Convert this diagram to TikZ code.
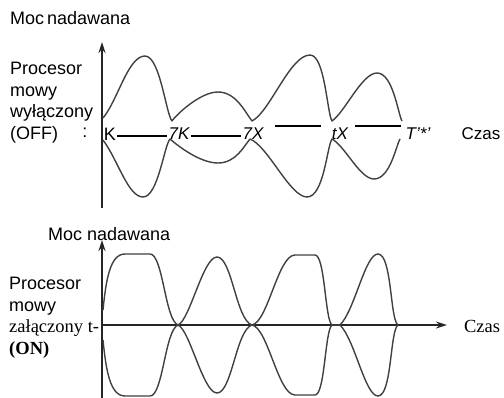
\documentclass[tikz,border=0pt]{standalone}
\usepackage{fontspec}
\setmainfont{Liberation Sans}
\newfontfamily\serifrm{Liberation Serif}
\usepackage{tikz}
\usetikzlibrary{arrows.meta, positioning}

\begin{document}
\begin{tikzpicture}[
    x=1pt, y=-1pt,
    lbl/.style={inner sep=1pt, font=\fontsize{18}{21.5}\selectfont},
    tlbl/.style={lbl, font=\fontsize{17}{21.5}\selectfont\itshape},
    serlbl/.style={inner sep=1pt, font=\fontsize{18.5}{21.5}\selectfont\serifrm},
    wave/.style={line width=1.4pt, black!75, line join=round},
    axis/.style={line width=1.6pt, black!85},
    axarr/.style={axis, -{Stealth[length=11pt, width=7pt]}},
    rule/.style={line width=1.3pt, black}
  ]
  \useasboundingbox (0,0) rectangle (504,398);

  \node[lbl, anchor=west] (titoff) at (9,18) {Moc\hspace{3pt}nadawana};
  \node[lbl, anchor=north west, align=left] (off) at (9,61)
    {Procesor\\mowy\\wyłączony\\(OFF)};
  \node[lbl] (colon) at (85,133) {:};
  \node[lbl] (k1) at (110,134) {K};
  \node[tlbl] (k2) at (179,134) {7K};
  \node[tlbl] (x1) at (253,134) {7X};
  \node[tlbl] (x2) at (340,134) {tX};
  \node[tlbl] (tt) at (418,134) {T'*'};
  \node[lbl, font=\fontsize{17}{21.5}\selectfont] (czas1) at (481,134) {Czas};
  \draw[rule] ([yshift=-2pt]k1.east) -- ([yshift=-2pt]k2.west);
  \draw[rule] ([yshift=-2pt]k2.east) -- ([yshift=-2pt]x1.west);
  \draw[rule, shorten <=10pt, shorten >=10pt] ([yshift=8pt]x1.east) -- ([yshift=8pt]x2.west);
  \draw[rule, shorten <=6pt, shorten >=4pt] ([yshift=8pt]x2.east) -- ([yshift=8pt]tt.west);

  \coordinate (o1) at (102,208);
  \coordinate (y1) at (102,42);
  \draw[axarr] (o1) -- (y1);

  \draw[wave] (103,118) .. controls (118,100) and (128,56) .. (145,56)
    .. controls (160,56) and (166,114) .. (172,121)
    .. controls (176,115) and (200,92) .. (218,92)
    .. controls (236,92) and (245,112) .. (252,121)
    .. controls (270,112) and (290,55) .. (310,55)
    .. controls (325,55) and (327,113) .. (332,121)
    .. controls (345,112) and (362,73) .. (377,73)
    .. controls (393,73) and (398,114) .. (402,121);
  \draw[wave] (103,140) .. controls (118,160) and (128,197) .. (143,197)
    .. controls (158,197) and (164,146) .. (170,139)
    .. controls (178,146) and (200,163) .. (218,163)
    .. controls (236,163) and (244,146) .. (250,139)
    .. controls (268,146) and (290,197) .. (307,197)
    .. controls (324,197) and (327,146) .. (332,139)
    .. controls (345,146) and (360,179) .. (374,179)
    .. controls (390,179) and (396,146) .. (400,139);

  \node[lbl, anchor=west] (titon) at (47,234) {Moc nadawana};
  \node[lbl, anchor=north west, align=left] (on) at (8,276)
    {Procesor\\mowy\\{\fontsize{18.5}{21.5}\selectfont\serifrm załączony t-}\\{\fontsize{18.5}{21.5}\selectfont\serifrm\bfseries (ON)}};
  \node[serlbl] (czas2) at (482,326) {Czas};

  \coordinate (o2) at (102,398);
  \coordinate (y2) at (102,240);
  \coordinate (b2) at (102,325);
  \coordinate (x2end) at (447,325);
  \draw[axarr] (o2) -- (y2);
  \draw[axarr] (b2) -- (x2end);

  \foreach \s in {1,-1}{
  \begin{scope}[shift={(0,325)}, yscale=\s]
    \draw[wave] (103,-15) .. controls (106,-45) and (110,-71) .. (125,-71) -- (150,-71)
      .. controls (163,-71) and (165,-5) .. (178,0)
      .. controls (190,-5) and (203,-68) .. (217,-68)
      .. controls (232,-68) and (236,-5) .. (252,0)
      .. controls (268,-3) and (278,-70) .. (295,-70) -- (315,-70)
      .. controls (325,-70) and (325,-5) .. (332,0) -- (340,0)
      .. controls (355,-15) and (365,-71) .. (378,-71)
      .. controls (392,-71) and (390,-5) .. (398,0);
  \end{scope}
  }
\end{tikzpicture}
\end{document}
